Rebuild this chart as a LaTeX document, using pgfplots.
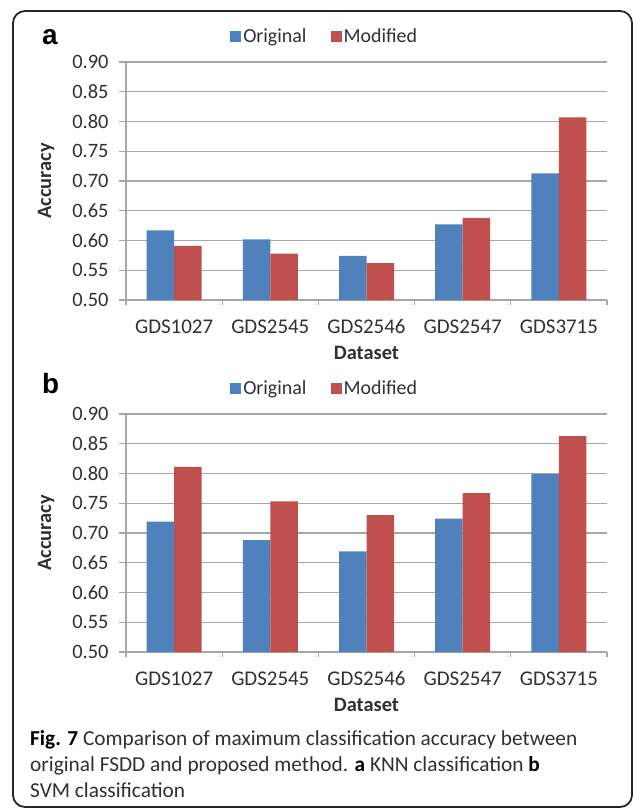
\documentclass[border=0pt]{standalone}
\usepackage{pgfplots}
\pgfplotsset{compat=1.18}
\usepackage{fontspec}
\setmainfont{Carlito}
\newfontfamily\arialfont{Liberation Sans}
\definecolor{origblue}{HTML}{4F81BD}
\definecolor{modred}{HTML}{C0504D}
\definecolor{gridgray}{HTML}{A6A6A6}
\definecolor{txt}{HTML}{303030}

\pgfplotsset{
  mybar/.style={
    scale only axis,
    width=481bp, height=238bp,
    xmin=-0.5, xmax=4.5, ymin=0.5, ymax=0.9,
    ybar=0pt, bar width=27.5bp,
    xtick={0,1,2,3,4},
    xticklabels={GDS1027,GDS2545,GDS2546,GDS2547,GDS3715},
    minor xtick={-0.5,0.5,1.5,2.5,3.5,4.5},
    ytick={0.5,0.55,0.6,0.65,0.7,0.75,0.8,0.85,0.9},
    yticklabel style={/pgf/number format/fixed,
      /pgf/number format/fixed zerofill,
      /pgf/number format/precision=2,
      /pgf/number format/assume math mode=true,
      font=\fontsize{20.5}{24}\selectfont, xshift=-7bp},
    axis x line*=bottom, axis y line*=left,
    axis line style={gridgray, line width=1.2bp, -},
    ymajorgrids, grid style={gridgray, line width=1.2bp},
    major x tick style={draw=none},
    minor x tick style={gridgray, line width=1.2bp},
    ytick style={gridgray, line width=1.2bp},
    tick align=outside,
    major tick length=7bp, minor tick length=5bp,
    tick label style={text=txt},
    xticklabel style={font=\fontsize{21}{24}\selectfont, anchor=base, yshift=-26bp},
    xlabel={\textbf{Dataset}},
    ylabel={\textbf{Accuracy}},
    label style={font=\fontsize{20.5}{24}\selectfont, text=txt},
    xlabel style={at={(axis description cs:0.5,0)}, anchor=base, yshift=-59bp},
    ylabel style={at={(axis description cs:0,0.5)}, anchor=base, rotate=0, yshift=75bp},
    legend style={at={(0.413,1.109)}, anchor=center, draw=none, fill=none,
      legend columns=2, font=\fontsize{20}{24}\selectfont, text=txt,
      /tikz/every even column/.append style={column sep=22bp},
      inner sep=0pt},
    legend image code/.code={\fill[#1] (0bp,-5.5bp) rectangle (11bp,5.5bp);},
  }
}

\begin{document}
\begin{tikzpicture}
\useasboundingbox (0,0) rectangle (637bp,-810bp);
\draw[line width=1.8bp, rounded corners=12bp, black!85] (13bp,-11bp) rectangle (632bp,-807bp);

\node[anchor=base west, inner sep=0pt, font=\arialfont\bfseries\fontsize{28}{30}\selectfont] at (42bp,-44bp) {a};
\node[anchor=base west, inner sep=0pt, font=\arialfont\bfseries\fontsize{28}{30}\selectfont] at (42bp,-393bp) {b};

\begin{axis}[mybar, at={(126bp,-300bp)}, anchor=south west]
\addplot[fill=origblue, draw=none] coordinates {(0,0.617) (1,0.602) (2,0.574) (3,0.627) (4,0.713)};
\addplot[fill=modred, draw=none] coordinates {(0,0.591) (1,0.578) (2,0.562) (3,0.638) (4,0.807)};
\legend{Original,Modified}
\end{axis}

\begin{axis}[mybar, at={(126bp,-652bp)}, anchor=south west]
\addplot[fill=origblue, draw=none] coordinates {(0,0.719) (1,0.688) (2,0.669) (3,0.724) (4,0.799)};
\addplot[fill=modred, draw=none] coordinates {(0,0.811) (1,0.753) (2,0.730) (3,0.767) (4,0.863)};
\legend{Original,Modified}
\end{axis}

\node[anchor=base west, font=\fontsize{21.4}{26}\selectfont, text=txt, inner sep=0pt] at (30bp,-745bp) {\textbf{\color{black}Fig. 7} Comparison of maximum classification accuracy between};
\node[anchor=base west, font=\fontsize{21.4}{26}\selectfont, text=txt, inner sep=0pt] at (30bp,-771bp) {original FSDD and proposed method. \textbf{\color{black}a} KNN classification \textbf{\color{black}b}};
\node[anchor=base west, font=\fontsize{21.4}{26}\selectfont, text=txt, inner sep=0pt] at (30bp,-797bp) {SVM classification};
\end{tikzpicture}
\end{document}
